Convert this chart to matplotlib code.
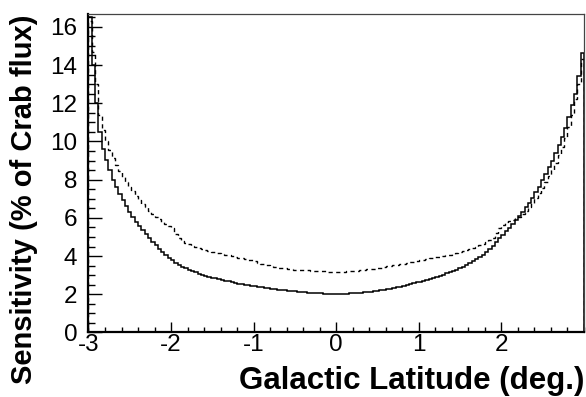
import numpy as np
import matplotlib
matplotlib.use("Agg")
import matplotlib.pyplot as plt

plt.rcParams.update({
    "font.family": ["Liberation Sans", "DejaVu Sans"],
    "xtick.direction": "in",
    "ytick.direction": "in",
    "axes.unicode_minus": False,
})

# =============================
#  Histogram data (0.04 deg bins, -3 .. 3)
# =============================
lat_lo, lat_hi, bin_width = -3.0, 3.0, 0.04

# solid histogram: sensitivity in % of Crab flux
sens_solid = [
    16.5, 14.0, 12.0, 10.5, 9.60, 9.05, 8.50, 8.00, 7.62, 7.26,
    6.93, 6.62, 6.33, 6.06, 5.80, 5.57, 5.35, 5.13, 4.93, 4.74,
    4.56, 4.38, 4.22, 4.06, 3.92, 3.79, 3.66, 3.55, 3.45, 3.36,
    3.28, 3.21, 3.14, 3.08, 3.02, 2.97, 2.92, 2.87, 2.83, 2.79,
    2.75, 2.71, 2.67, 2.63, 2.60, 2.56, 2.53, 2.50, 2.47, 2.44,
    2.41, 2.38, 2.36, 2.33, 2.31, 2.28, 2.26, 2.24, 2.22, 2.20,
    2.18, 2.16, 2.15, 2.13, 2.12, 2.10, 2.09, 2.08, 2.07, 2.06,
    2.05, 2.04, 2.04, 2.03, 2.03, 2.03, 2.03, 2.04, 2.04, 2.05,
    2.06, 2.07, 2.09, 2.10, 2.12, 2.14, 2.16, 2.19, 2.21, 2.24,
    2.27, 2.30, 2.33, 2.37, 2.40, 2.44, 2.48, 2.52, 2.57, 2.62,
    2.66, 2.71, 2.76, 2.81, 2.86, 2.92, 2.97, 3.03, 3.09, 3.15,
    3.22, 3.29, 3.37, 3.45, 3.53, 3.62, 3.72, 3.83, 3.94, 4.06,
    4.22, 4.38, 4.55, 4.73, 4.92, 5.11, 5.30, 5.49, 5.68, 5.88,
    6.10, 6.32, 6.55, 6.80, 7.06, 7.34, 7.64, 7.96, 8.30, 8.65,
    9.00, 9.40, 9.80, 10.25, 10.7, 11.3, 11.9, 12.5, 13.4, 14.65,
]

# dashed histogram
sens_dashed = [
    16.3, 14.7, 13.0, 11.4, 10.6, 10.0, 9.55, 9.15, 8.78, 8.45,
    8.15, 7.88, 7.62, 7.38, 7.16, 6.95, 6.75, 6.56, 6.38, 6.22,
    6.06, 5.92, 5.80, 5.70, 5.60, 5.45, 5.15, 4.92, 4.80, 4.70,
    4.62, 4.54, 4.47, 4.41, 4.36, 4.31, 4.27, 4.23, 4.19, 4.15,
    4.11, 4.07, 4.03, 3.99, 3.95, 3.91, 3.88, 3.84, 3.81, 3.78,
    3.72, 3.66, 3.60, 3.55, 3.51, 3.47, 3.43, 3.40, 3.37, 3.35,
    3.33, 3.31, 3.29, 3.28, 3.27, 3.26, 3.25, 3.24, 3.23, 3.22,
    3.21, 3.20, 3.19, 3.19, 3.18, 3.18, 3.19, 3.19, 3.20, 3.21,
    3.22, 3.24, 3.26, 3.28, 3.30, 3.32, 3.34, 3.37, 3.40, 3.43,
    3.46, 3.49, 3.52, 3.55, 3.58, 3.61, 3.64, 3.67, 3.71, 3.75,
    3.79, 3.82, 3.85, 3.88, 3.91, 3.94, 3.97, 4.00, 4.03, 4.07,
    4.12, 4.17, 4.22, 4.27, 4.32, 4.38, 4.44, 4.50, 4.57, 4.64,
    4.72, 4.82, 4.95, 5.20, 5.45, 5.65, 5.76, 5.84, 5.91, 5.98,
    6.02, 6.18, 6.36, 6.56, 6.78, 7.02, 7.28, 7.56, 7.86, 8.18,
    8.52, 8.88, 9.28, 9.72, 10.2, 10.75, 11.4, 12.2, 13.0, 14.3,
]

edges = np.linspace(lat_lo, lat_hi, len(sens_solid) + 1)

# =============================
#  Plot
# =============================
fig = plt.figure(figsize=(5.86, 3.97), dpi=100)
ax = fig.add_axes([0.151, 0.1625, 0.8456, 0.8022])

ax.stairs(sens_solid, edges, color="black", linewidth=1.1)
ax.stairs(sens_dashed, edges, color="black", linewidth=1.0,
          linestyle=(0, (3, 2.5)))

ax.set_xlim(lat_lo, lat_hi)
ax.set_ylim(0, 16.67)

ax.set_xticks([-3, -2, -1, 0, 1, 2])
ax.set_xticks(np.arange(-3, 3.001, 0.2), minor=True)
ax.set_yticks(np.arange(0, 17, 2))
ax.set_yticks(np.arange(0, 16.6, 0.5), minor=True)

ax.tick_params(axis="x", which="major", length=7.5, width=1.0, labelsize=17.5, pad=1)
ax.tick_params(axis="x", which="minor", length=3.8, width=1.0)
ax.tick_params(axis="y", which="major", length=10, width=1.0, labelsize=17.5, pad=8)
ax.tick_params(axis="y", which="minor", length=5, width=1.0)

for side in ["left", "bottom"]:
    ax.spines[side].set_linewidth(1.6)
for side in ["top", "right"]:
    ax.spines[side].set_linewidth(0.9)
    ax.spines[side].set_color("#444444")

ax.set_xlabel("Galactic Latitude (deg.)", fontsize=22.5, fontweight="bold", loc="right")
ax.set_ylabel("Sensitivity (% of Crab flux)", fontsize=21, fontweight="bold", loc="top")
ax.xaxis.set_label_coords(1.0, -0.105)
ax.yaxis.set_label_coords(-0.102, 1.0)

fig.savefig("out.png", dpi=100)
